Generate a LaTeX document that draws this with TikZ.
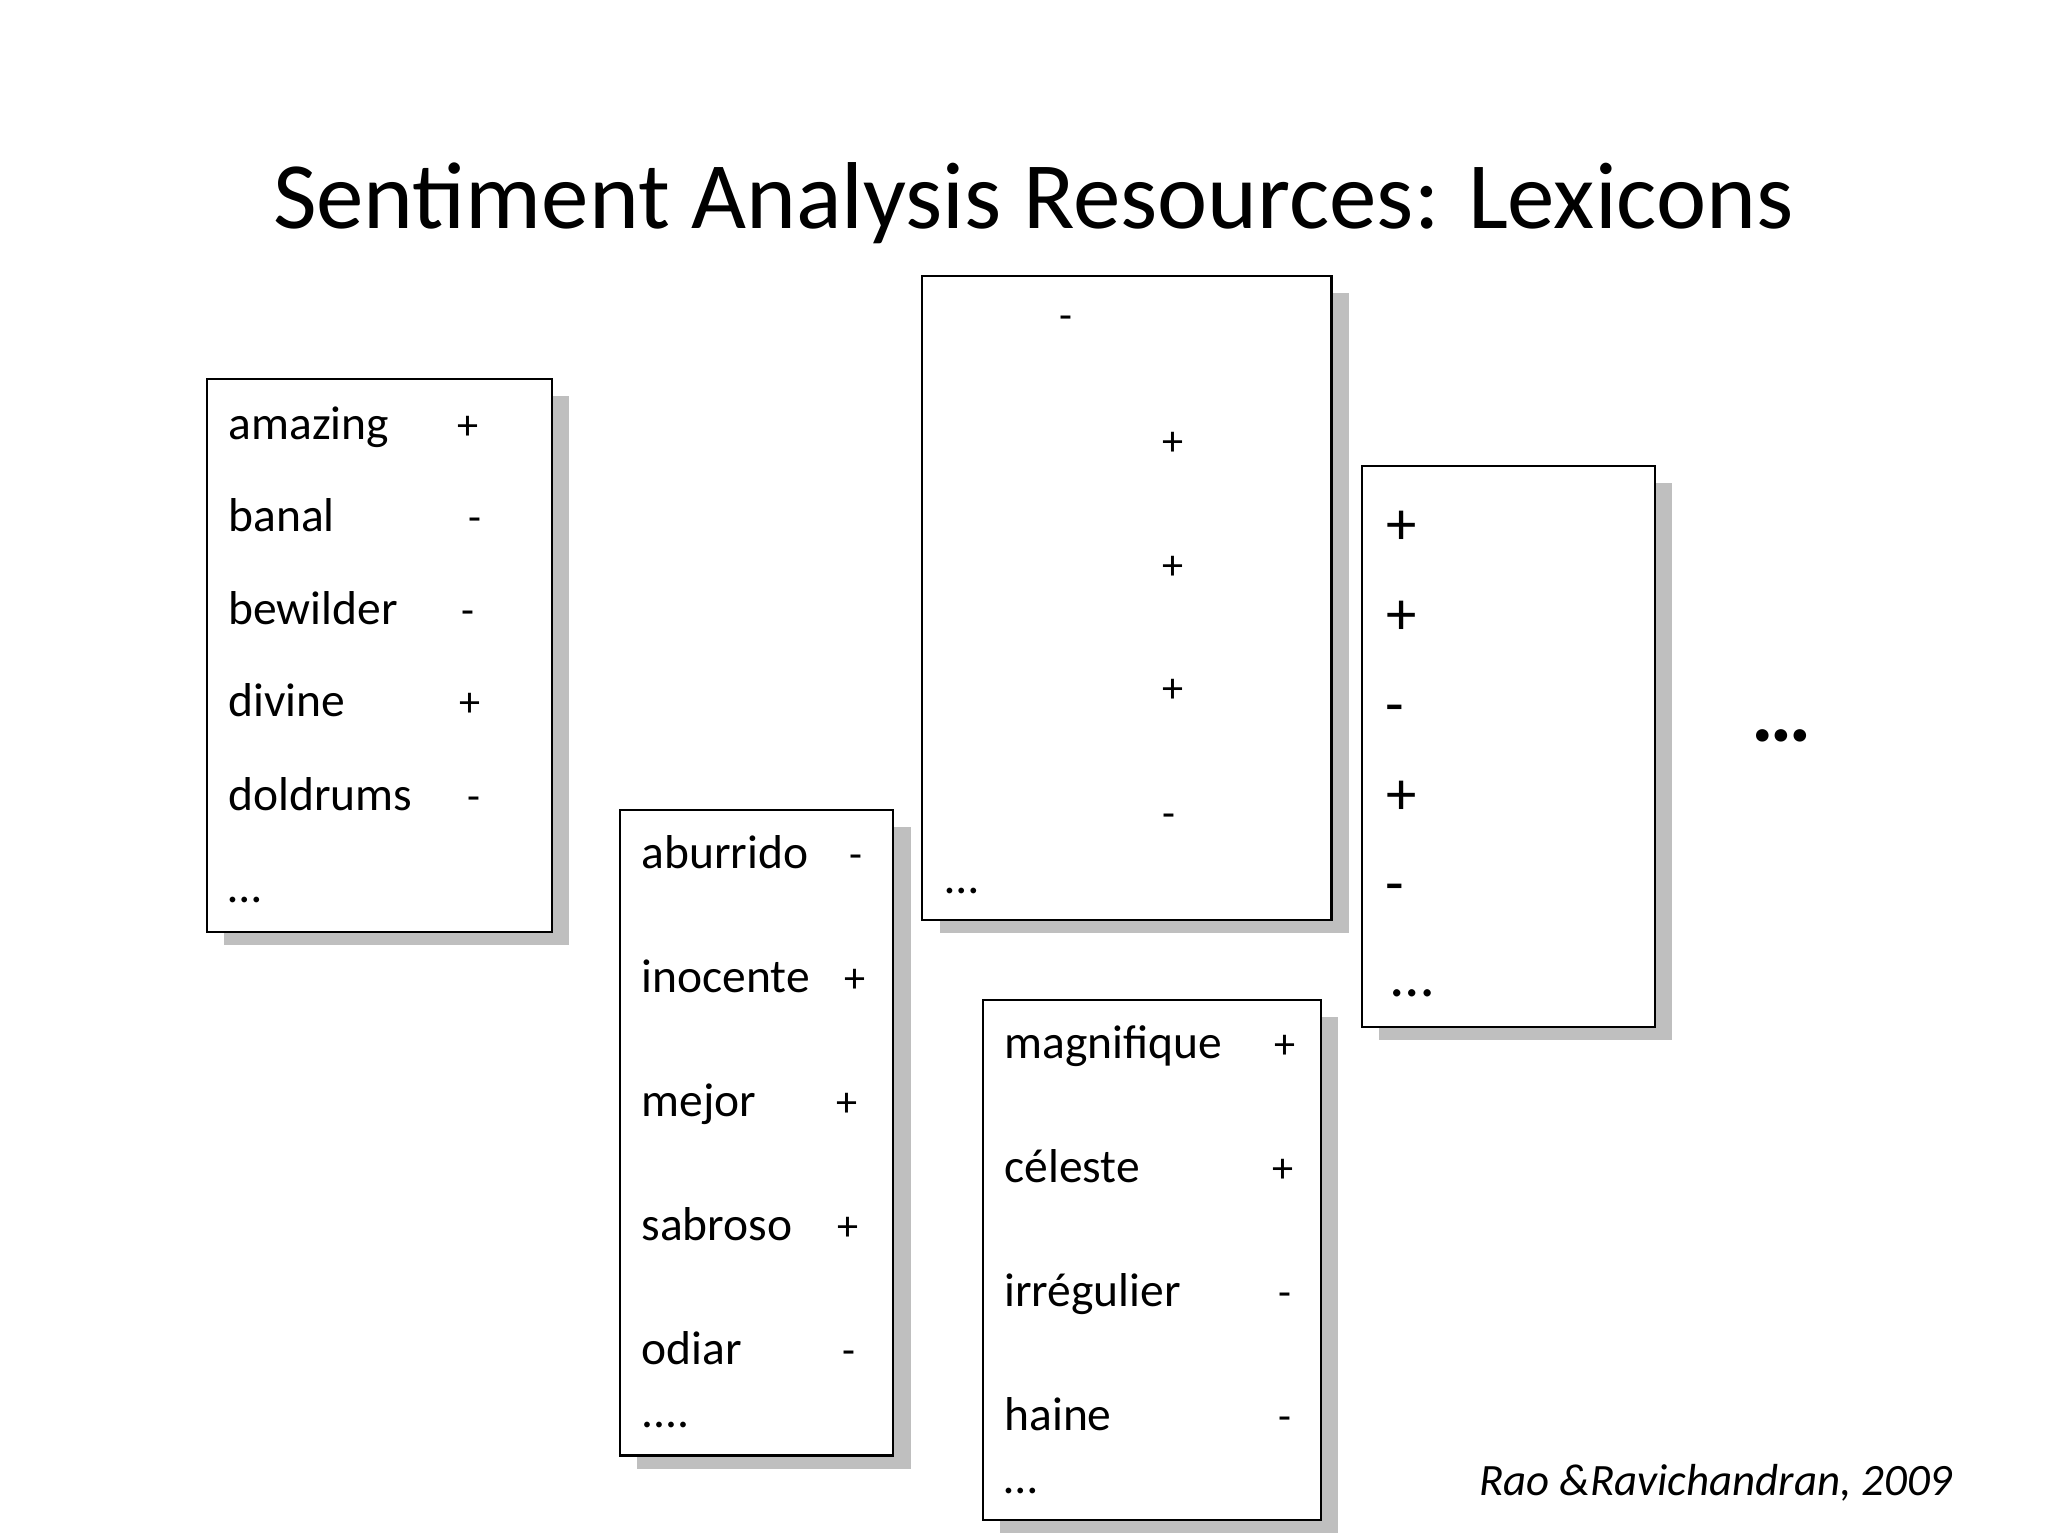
\documentclass[tikz,border=0pt]{standalone}
\usepackage{fontspec}
\setmainfont{Carlito}
\begin{document}
\begin{tikzpicture}[x=1pt,y=-1pt,
  box/.style={draw=black,line width=1.6pt,fill=white},
  shad/.style={fill=black!25,draw=none},
  wd/.style={anchor=base west,inner sep=0pt,font=\fontsize{36}{36}\selectfont},
  sg/.style={anchor=base,inner sep=0pt,font=\fontsize{32}{32}\selectfont},
  bs/.style={anchor=base,inner sep=0pt,font=\fontsize{46}{46}\selectfont}]
\useasboundingbox (0,0) rectangle (1552,1164);
\node[anchor=base,inner sep=0pt,font=\fontsize{72}{72}\selectfont] (title) at (783,173) {Sentiment Analysis Resources: Lexicons};
% boxes
\foreach \a/\b/\c/\d in {157/287/418/706, 470/614/677/1103, 699/209/1009/697, 745/758/1001/1152, 1032/353/1254/778}{
  \fill[shad] (\a+13,\b+13) rectangle (\c+13,\d+10);
  \draw[box] (\a,\b) rectangle (\c,\d);
}
% box 1
\node[wd] (w1) at (173,333) {amazing};  \node[sg] (s1) at (355,333) {+};
\node[wd] (w2) at (173,403) {banal};    \node[sg] (s2) at (360,403) {-};
\node[wd] (w3) at (173,473) {bewilder}; \node[sg] (s3) at (355,473) {-};
\node[wd] (w4) at (173,543) {divine};   \node[sg] (s4) at (356,543) {+};
\node[wd] (w5) at (173,614) {doldrums}; \node[sg] (s5) at (359,614) {-};
\node[wd] (w6) at (173,684) {\dots};
% box 2
\node[wd] (a1) at (486,658) {aburrido}; \node[sg] (t1) at (649,658) {-};
\node[wd] (a2) at (486,752) {inocente}; \node[sg] (t2) at (648,752) {+};
\node[wd] (a3) at (486,846) {mejor};    \node[sg] (t3) at (642,846) {+};
\node[wd] (a4) at (486,940) {sabroso};  \node[sg] (t4) at (643,940) {+};
\node[wd] (a5) at (486,1034) {odiar};   \node[sg] (t5) at (643,1034) {-};
\node[wd] (a6) at (486,1082) {....};
% box 3
\node[sg] (u1) at (808,250) {-};
\node[sg] (u2) at (889,345) {+};
\node[sg] (u3) at (889,439) {+};
\node[sg] (u4) at (889,532) {+};
\node[sg] (u5) at (886,627) {-};
\node[wd] (u6) at (716,677) {\dots};
% box 4
\node[wd] (f1) at (761,802) {magnifique}; \node[sg] (g1) at (974,802) {+};
\node[wd] (f2) at (761,896) {céleste};    \node[sg] (g2) at (972,896) {+};
\node[wd] (f3) at (761,990) {irrégulier}; \node[sg] (g3) at (974,990) {-};
\node[wd] (f4) at (761,1084) {haine};     \node[sg] (g4) at (974,1084) {-};
\node[wd] (f5) at (761,1132) {\dots};
% box 5
\node[bs] (h1) at (1062,413) {+};
\node[bs] (h2) at (1062,481) {+};
\node[bs] (h3) at (1057,549) {-};
\node[bs] (h4) at (1062,617) {+};
\node[bs] (h5) at (1057,685) {-};
\node[bs] (h6) at (1070,755) {\dots};
% more
\node[anchor=base,inner sep=0pt,font=\fontsize{64}{64}\selectfont\bfseries] (more) at (1350,562) {\dots};
\node[anchor=base east,inner sep=0pt,font=\fontsize{34}{34}\selectfont\itshape] (cite) at (1480,1133) {Rao \&Ravichandran, 2009};
\end{tikzpicture}
\end{document}
